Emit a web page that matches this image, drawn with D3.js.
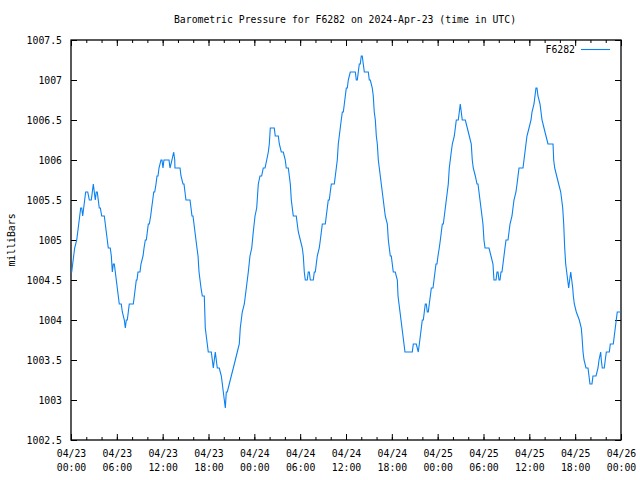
<!DOCTYPE html>
<html>
<head>
<meta charset="utf-8">
<script src="https://cdn.jsdelivr.net/npm/d3@7"></script>
<style>
  html, body { margin: 0; padding: 0; background: #fff; }
  svg { display: block; }
  text { font-family: "DejaVu Sans Mono", "Liberation Mono", monospace; font-size: 9.8px; fill: #000; }
</style>
</head>
<body>
<svg id="chart" width="640" height="480"></svg>
<script>
// ---- data ----
const chartTitle = "Barometric Pressure for F6282 on 2024-Apr-23 (time in UTC)";
const seriesName = "F6282";
const yLabel = "milliBars";
const startTime = "2024-04-23T00:00:00Z";
// hours since 04/23 00:00 UTC
const hours = [
  0.00,0.09,0.22,0.35,0.48,0.75,0.88,1.01,1.14,1.27,1.40,1.53,1.66,1.79,1.92,2.19,2.40,2.66,2.79,2.92,
  3.05,3.18,3.31,3.44,3.57,3.70,3.84,4.02,4.36,4.49,4.62,4.75,4.88,5.14,5.28,5.41,5.54,5.67,5.80,5.93,
  6.06,6.19,6.32,6.58,6.72,6.98,7.11,7.24,7.37,7.50,7.63,8.16,8.29,8.42,8.55,8.64,8.77,9.03,9.16,9.43,
  9.56,9.73,9.86,9.99,10.12,10.25,10.43,10.56,10.70,10.83,10.96,11.13,11.26,11.39,11.52,11.78,11.91,12.04,12.17,12.57,
  12.83,12.96,13.22,13.44,13.58,13.61,14.14,14.27,14.40,14.66,14.79,14.92,15.05,15.58,15.71,15.84,15.97,16.10,16.23,16.36,
  16.49,16.63,16.76,16.89,17.02,17.19,17.45,17.58,17.71,17.84,17.97,18.37,18.50,18.63,18.76,18.89,19.02,19.15,19.41,19.68,
  19.81,19.94,20.07,20.20,20.33,20.46,20.72,20.98,21.25,21.51,21.77,22.03,22.16,22.29,22.42,22.69,22.95,23.08,23.21,23.43,
  23.66,23.86,24.09,24.31,24.52,24.74,24.96,25.17,25.40,25.62,25.83,25.96,26.09,26.22,26.61,26.74,27.14,27.27,27.53,27.79,
  28.05,28.18,28.45,28.58,28.71,28.84,28.97,29.10,29.49,29.62,29.76,30.02,30.28,30.41,30.54,30.67,30.93,31.06,31.20,31.33,
  31.72,31.85,31.98,32.11,32.24,32.50,32.64,32.77,32.90,33.29,33.42,33.55,33.68,33.81,33.94,34.08,34.47,34.60,34.73,34.86,
  34.99,35.12,35.25,35.38,35.52,35.65,35.78,35.91,36.04,36.17,36.30,36.56,37.22,37.35,37.48,37.61,37.74,37.87,38.00,38.13,
  38.26,38.40,38.92,39.05,39.18,39.44,39.57,39.70,39.84,39.97,40.10,40.23,40.36,40.49,40.62,40.88,41.01,41.14,41.41,41.54,
  41.67,41.80,41.93,42.06,42.19,42.45,42.72,42.81,42.94,43.07,43.20,43.33,43.46,43.59,43.72,44.68,44.81,45.20,45.46,45.60,
  45.73,45.86,45.99,46.12,46.25,46.38,46.51,46.64,46.77,46.90,47.04,47.17,47.39,47.52,47.65,47.78,47.91,48.04,48.21,48.35,
  48.48,48.61,48.74,48.87,49.00,49.13,49.26,49.39,49.52,49.65,49.78,49.92,50.18,50.31,50.44,50.70,50.83,50.96,51.09,51.22,
  51.62,51.88,52.14,52.40,52.53,52.66,52.93,53.15,53.28,53.41,53.54,53.67,53.80,53.93,54.06,54.20,54.72,54.98,55.24,55.37,
  55.64,55.77,55.90,56.03,56.16,56.29,56.42,56.55,56.68,56.81,56.95,57.21,57.34,57.47,57.73,57.86,57.99,58.25,58.39,58.52,
  58.65,59.17,59.30,59.43,59.56,59.69,59.96,60.22,60.35,60.61,60.74,60.87,61.00,61.13,61.40,61.53,61.66,61.92,62.18,62.44,
  63.10,63.19,63.32,63.58,63.84,64.11,64.24,64.37,64.50,64.63,64.76,64.89,65.02,65.15,65.28,65.42,65.55,65.68,65.76,65.89,
  66.15,66.54,66.80,66.89,67.03,67.16,67.42,67.68,67.81,67.94,68.20,68.33,68.73,68.99,69.12,69.34,69.42,69.55,69.81,69.94,
  70.08,70.47,70.60,70.99,71.12,71.25,71.38,71.51,72.00
];
const pressure = [
  1004.6,1004.6,1004.7,1004.8,1004.9,1005.0,1005.1,1005.2,1005.3,1005.4,1005.4,1005.3,1005.4,1005.5,1005.6,1005.6,1005.5,1005.5,1005.6,1005.7,
  1005.6,1005.5,1005.6,1005.6,1005.5,1005.4,1005.4,1005.3,1005.3,1005.2,1005.1,1005.0,1004.9,1004.9,1004.8,1004.6,1004.7,1004.7,1004.6,1004.5,
  1004.4,1004.3,1004.2,1004.2,1004.1,1004.0,1003.9,1004.0,1004.0,1004.1,1004.2,1004.2,1004.3,1004.4,1004.5,1004.5,1004.6,1004.6,1004.7,1004.8,
  1004.9,1005.0,1005.0,1005.1,1005.2,1005.2,1005.3,1005.4,1005.5,1005.6,1005.6,1005.7,1005.8,1005.8,1005.9,1006.0,1006.0,1005.9,1006.0,1006.0,
  1006.0,1005.9,1006.0,1006.1,1006.0,1005.9,1005.9,1005.9,1005.8,1005.7,1005.7,1005.6,1005.5,1005.5,1005.4,1005.3,1005.3,1005.2,1005.1,1005.0,
  1004.9,1004.8,1004.6,1004.5,1004.4,1004.3,1004.3,1003.9,1003.8,1003.7,1003.6,1003.6,1003.5,1003.4,1003.5,1003.6,1003.5,1003.4,1003.4,1003.3,
  1003.2,1003.1,1003.0,1002.9,1003.1,1003.1,1003.2,1003.3,1003.4,1003.5,1003.6,1003.7,1003.9,1004.0,1004.1,1004.2,1004.4,1004.5,1004.6,1004.8,
  1004.9,1005.1,1005.3,1005.4,1005.7,1005.8,1005.8,1005.9,1005.9,1006.0,1006.1,1006.2,1006.4,1006.4,1006.4,1006.3,1006.3,1006.2,1006.1,1006.1,
  1006.0,1005.9,1005.9,1005.8,1005.7,1005.5,1005.4,1005.3,1005.3,1005.2,1005.1,1005.0,1004.9,1004.8,1004.6,1004.5,1004.5,1004.6,1004.6,1004.5,
  1004.5,1004.6,1004.6,1004.7,1004.8,1004.9,1005.0,1005.1,1005.2,1005.2,1005.3,1005.4,1005.5,1005.5,1005.6,1005.7,1005.7,1005.8,1005.9,1006.0,
  1006.2,1006.3,1006.4,1006.5,1006.6,1006.6,1006.7,1006.8,1006.9,1006.9,1007.0,1007.1,1007.1,1007.0,1007.0,1007.1,1007.2,1007.2,1007.3,1007.3,
  1007.2,1007.1,1007.1,1007.0,1007.0,1006.9,1006.8,1006.6,1006.5,1006.3,1006.2,1006.0,1005.9,1005.8,1005.7,1005.5,1005.4,1005.3,1005.2,1005.0,
  1004.9,1004.8,1004.8,1004.7,1004.6,1004.6,1004.5,1004.3,1004.2,1004.1,1004.0,1003.9,1003.8,1003.7,1003.6,1003.6,1003.7,1003.7,1003.6,1003.7,
  1003.8,1003.9,1004.0,1004.0,1004.1,1004.2,1004.2,1004.1,1004.1,1004.2,1004.3,1004.4,1004.4,1004.5,1004.6,1004.7,1004.7,1004.8,1004.9,1005.0,
  1005.1,1005.2,1005.2,1005.3,1005.4,1005.5,1005.6,1005.7,1005.9,1006.0,1006.1,1006.2,1006.3,1006.4,1006.5,1006.5,1006.6,1006.7,1006.6,1006.5,
  1006.5,1006.4,1006.3,1006.2,1006.0,1005.9,1005.8,1005.7,1005.7,1005.6,1005.5,1005.4,1005.3,1005.2,1005.0,1004.9,1004.9,1004.8,1004.7,1004.5,
  1004.5,1004.6,1004.6,1004.5,1004.5,1004.6,1004.6,1004.7,1004.8,1004.9,1005.0,1005.0,1005.1,1005.2,1005.3,1005.4,1005.5,1005.6,1005.7,1005.8,
  1005.9,1005.9,1006.0,1006.1,1006.2,1006.3,1006.4,1006.5,1006.6,1006.7,1006.8,1006.9,1006.9,1006.8,1006.7,1006.6,1006.5,1006.4,1006.3,1006.2,
  1006.2,1006.0,1005.9,1005.8,1005.7,1005.6,1005.5,1005.4,1005.2,1004.9,1004.7,1004.6,1004.5,1004.4,1004.5,1004.6,1004.5,1004.4,1004.3,1004.2,
  1004.1,1004.0,1003.9,1003.8,1003.6,1003.5,1003.4,1003.4,1003.3,1003.2,1003.2,1003.3,1003.3,1003.4,1003.5,1003.6,1003.5,1003.4,1003.4,1003.5,
  1003.6,1003.6,1003.7,1003.7,1003.8,1003.9,1004.0,1004.1,1004.1
];
const yTicks = [1002.5, 1003, 1003.5, 1004, 1004.5, 1005, 1005.5, 1006, 1006.5, 1007, 1007.5];
const yTickLabels = ["1002.5","1003","1003.5","1004","1004.5","1005","1005.5","1006","1006.5","1007","1007.5"];
const xMajorHours = [0, 6, 12, 18, 24, 30, 36, 42, 48, 54, 60, 66, 72];
const xTickDates = ["04/23","04/23","04/23","04/23","04/24","04/24","04/24","04/24","04/25","04/25","04/25","04/25","04/26"];
const xTickTimes = ["00:00","06:00","12:00","18:00","00:00","06:00","12:00","18:00","00:00","06:00","12:00","18:00","00:00"];
const xMinorHours = d3.range(0, 73, 2);

// ---- layout ----
const svg = d3.select("#chart");
const L = 71, R = 621, T = 40, B = 440;
const t0 = new Date(startTime);
const toDate = h => new Date(t0.getTime() + h * 3600e3);
const x = d3.scaleUtc().domain([toDate(0), toDate(72)]).range([L, R]);
const y = d3.scaleLinear().domain([1002.5, 1007.5]).range([B, T]);
const lineColor = "#0a80f2";

const data = hours.map((h, i) => ({ t: toDate(h), v: pressure[i] }));

// axes (bottom with major and minor ticks)
const gx = svg.append("g").attr("transform", `translate(0,${B})`);
gx.call(d3.axisBottom(x).tickValues(xMinorHours.map(toDate)).tickSize(-3).tickFormat(""));
gx.call(g => g.select(".domain").remove());
const gx2 = svg.append("g").attr("transform", `translate(0,${B})`);
gx2.call(d3.axisBottom(x).tickValues(xMajorHours.map(toDate)).tickSize(-6).tickFormat(""));
gx2.select(".domain").remove();
gx2.selectAll(".tick").each(function(d, i) {
  const tk = d3.select(this);
  tk.append("text").attr("y", 17).attr("text-anchor", "middle").attr("fill", "#000").text(xTickDates[i]);
  tk.append("text").attr("y", 31).attr("text-anchor", "middle").attr("fill", "#000").text(xTickTimes[i]);
});

// top mirror ticks
const gt = svg.append("g").attr("transform", `translate(0,${T})`);
gt.call(d3.axisTop(x).tickValues(xMinorHours.map(toDate)).tickSize(-3).tickFormat(""));
gt.select(".domain").remove();
const gt2 = svg.append("g").attr("transform", `translate(0,${T})`);
gt2.call(d3.axisTop(x).tickValues(xMajorHours.map(toDate)).tickSize(-6).tickFormat(""));
gt2.select(".domain").remove();

// left axis
const gy = svg.append("g").attr("transform", `translate(${L},0)`);
gy.call(d3.axisLeft(y).tickValues(yTicks).tickSize(-6).tickPadding(9).tickFormat((d, i) => yTickLabels[i]));
gy.select(".domain").remove();
gy.selectAll("text").attr("dy", "0.35em").style("font-family", "DejaVu Sans Mono").style("font-size", "9.8px");

// right mirror ticks
const gr = svg.append("g").attr("transform", `translate(${R},0)`);
gr.call(d3.axisRight(y).tickValues(yTicks).tickSize(-6).tickFormat(""));
gr.select(".domain").remove();

svg.selectAll(".tick line").attr("stroke", "#000").attr("stroke-width", 1);
svg.selectAll(".tick text").style("font-family", "DejaVu Sans Mono").style("font-size", "9.8px");

// border box
svg.append("rect").attr("x", L).attr("y", T).attr("width", R - L).attr("height", B - T)
  .attr("fill", "none").attr("stroke", "#000").attr("stroke-width", 1.3);

// line
const line = d3.line().x(d => x(d.t)).y(d => y(d.v));
svg.append("path").datum(data).attr("d", line)
  .attr("fill", "none").attr("stroke", lineColor).attr("stroke-width", 1.1)
  .attr("stroke-linejoin", "miter");

// title
svg.append("text").attr("x", 345).attr("y", 23).attr("text-anchor", "middle").text(chartTitle);

// y label
svg.append("text").attr("transform", "translate(15,240) rotate(-90)").attr("text-anchor", "middle").text(yLabel);

// legend
svg.append("text").attr("x", 575).attr("y", 53).attr("text-anchor", "end").text(seriesName);
svg.append("line").attr("x1", 581).attr("x2", 610).attr("y1", 49.5).attr("y2", 49.5)
  .attr("stroke", lineColor).attr("stroke-width", 1.1);
</script>
</body>
</html>
